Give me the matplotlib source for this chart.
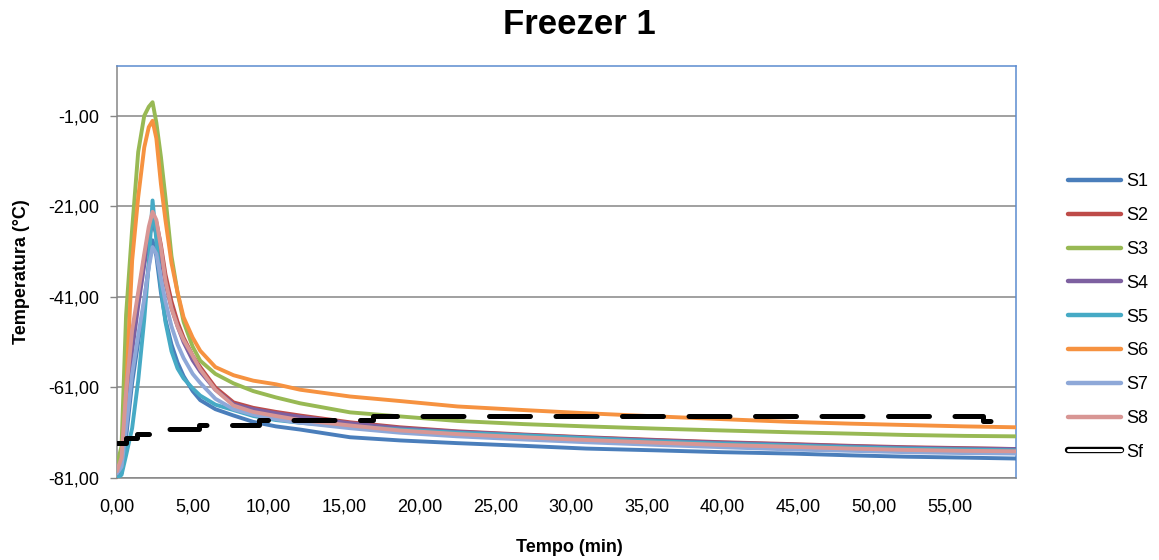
import matplotlib
matplotlib.use("Agg")
import matplotlib.pyplot as plt
from matplotlib.lines import Line2D
import matplotlib.patheffects as pe
from matplotlib.ticker import FixedLocator, FuncFormatter

plt.rcParams['font.family'] = ['Liberation Sans', 'DejaVu Sans']

# Sampling times (min)
t = [0, 0.3, 0.6, 1.0, 1.4, 1.8, 2.1, 2.35, 2.6, 2.9, 3.2, 3.6, 4.0, 4.4, 5.0, 5.5,
     6.5, 7.7, 9.0, 10.5, 12.1, 15.4, 18.7, 22.5, 26.9, 31, 35.7, 40, 44.5, 48.5,
     52.2, 56, 59.4]

s1 = [-81, -80, -72, -60, -51, -42, -34, -28.5, -32, -40, -46, -51.5, -55.5, -58.5,
      -61.8, -63.8, -65.8, -67.2, -68.6, -69.6, -70.3, -72, -72.7, -73.3, -73.9,
      -74.5, -74.9, -75.3, -75.6, -76, -76.3, -76.5, -76.7]
s2 = [-79.5, -77, -64, -50, -41, -32.5, -26.5, -23, -24.5, -29.5, -36, -42, -46.5,
      -50, -54, -56.5, -61, -64.3, -65.5, -66.4, -67.2, -68.7, -69.8, -70.7, -71.4,
      -72, -72.6, -73.1, -73.5, -73.9, -74.2, -74.4, -74.6]
s3 = [-78, -74, -45, -26, -9, -1, 1, 2, -2.5, -10, -19, -32, -40, -46.5, -52,
      -55.1, -58, -60.1, -61.8, -63.2, -64.5, -66.5, -67.4, -68.4, -69.1, -69.6,
      -70.1, -70.5, -70.9, -71.2, -71.5, -71.7, -71.8]
s4 = [-80, -78, -67, -53, -43, -34, -28, -24.8, -27, -32, -38, -43.5, -47.5, -51,
      -55, -57.5, -61.5, -64.7, -65.8, -66.7, -67.5, -68.9, -70, -70.8, -71.5,
      -72.1, -72.7, -73.2, -73.6, -74, -74.3, -74.5, -74.6]
s5 = [-81, -80.3, -76, -70, -59.5, -46, -33.6, -19.7, -28.5, -39, -46.5, -53, -56.8,
      -59, -61.2, -62.8, -64.8, -66, -67.3, -68.2, -68.8, -69.6, -70.3, -71, -71.6,
      -72.2, -72.9, -73.4, -73.8, -74.2, -74.5, -74.7, -74.9]
s6 = [-78.5, -78, -62, -33, -19, -8, -3.5, -2.1, -6, -16, -24, -33.5, -40, -45.5,
      -50, -52.9, -56.5, -58.3, -59.5, -60.3, -61.5, -63, -64, -65.2, -66, -66.7,
      -67.4, -68, -68.6, -69, -69.3, -69.6, -69.8]
s7 = [-80, -78.5, -70, -58, -49.5, -41.5, -34.5, -30, -31.5, -37, -42, -47.5, -51.5,
      -54.5, -58, -60, -63.5, -65.8, -67, -68, -68.8, -70, -71, -71.8, -72.5, -73.1,
      -73.7, -74.2, -74.7, -75, -75.3, -75.5, -75.6]
s8 = [-79.5, -76.5, -62, -48.4, -40, -31.5, -25.5, -22.2, -24, -30, -37.4, -43.5,
      -47.5, -50.5, -54, -57, -61.5, -65, -66.4, -67.3, -68.2, -69.4, -70.5, -71.3,
      -72, -72.6, -73.2, -73.7, -74.1, -74.5, -74.8, -75, -75.1]

# Freezer set temperature (stepwise record)
tf = [0, 0.6, 1.3, 3.4, 5.4, 9.4, 16.9, 57.2, 59.4]
sf = [-73.2, -72.2, -71.3, -70.2, -69.3, -68.2, -67.2, -68.3, -68.3]

labels = ['S1', 'S2', 'S3', 'S4', 'S5', 'S6', 'S7', 'S8']
colors = ['#4A7EBB', '#BE4B48', '#98B954', '#7D60A0', '#46AAC5', '#F69240',
          '#8EA8D8', '#D89694']
series = [s1, s2, s3, s4, s5, s6, s7, s8]

x_ticks = [0, 5, 10, 15, 20, 25, 30, 35, 40, 45, 50, 55]
y_ticks = [-81, -61, -41, -21, -1]

fig = plt.figure(figsize=(11.59, 5.60), dpi=100)
ax = fig.add_axes([117 / 1159, 1 - 478 / 560, (1016 - 117) / 1159, (478 - 66) / 560])

for vals, col, lab in zip(series, colors, labels):
    ax.plot(t, vals, color=col, lw=2.8, label=lab, solid_joinstyle='round',
            solid_capstyle='round', zorder=3)

sf_line, = ax.plot(tf, sf, color='black', lw=3.6, drawstyle='steps-post',
                   dash_capstyle='round', zorder=4)
sf_line.set_dashes((8.2, 5.1))

ax.set_xlim(0, 59.4)
ax.set_ylim(-81, 10)

fmt = FuncFormatter(lambda v, p: f"{v:.2f}".replace('.', ','))
ax.xaxis.set_major_locator(FixedLocator(x_ticks))
ax.yaxis.set_major_locator(FixedLocator(y_ticks))
ax.xaxis.set_major_formatter(fmt)
ax.yaxis.set_major_formatter(fmt)
ax.tick_params(axis='x', length=0, pad=15, labelsize=13, colors='#868686',
               labelcolor='black')
ax.tick_params(axis='y', length=5, width=1, pad=8, labelsize=13,
               colors='#868686', labelcolor='black')

ax.grid(axis='y', color='#868686', lw=1.1)
ax.set_axisbelow(True)
for side in ('left', 'bottom'):
    ax.spines[side].set_color('#868686')
    ax.spines[side].set_linewidth(1.1)
for side in ('top', 'right'):
    ax.spines[side].set_color('#5B8BD0')
    ax.spines[side].set_linewidth(1.1)

fig.text(579 / 1159, 1 - 24 / 560, 'Freezer 1', ha='center', va='center',
         fontsize=25, fontweight='bold')
fig.text(569 / 1159, 1 - 548 / 560, 'Tempo (min)', ha='center', va='center',
         fontsize=13, fontweight='bold')
fig.text(22 / 1159, 1 - 272 / 560, 'Temperatura (°C)', ha='center', va='center',
         rotation=90, fontsize=13, fontweight='bold')

handles = [Line2D([], [], color=c, lw=3.2, solid_capstyle='round') for c in colors]
sf_handle = Line2D([], [], color='white', lw=2.2, solid_capstyle='round',
                   path_effects=[pe.Stroke(linewidth=4.6, foreground='black'),
                                 pe.Normal()])
handles.append(sf_handle)
fig.legend(handles, labels + ['Sf'], loc='center left',
           bbox_to_anchor=(1068 / 1159, 1 - 317 / 560), frameon=False,
           fontsize=13, handlelength=2.95, handletextpad=0.3, labelspacing=0.93,
           borderpad=0, borderaxespad=0)

fig.savefig('out.png', dpi=100)
